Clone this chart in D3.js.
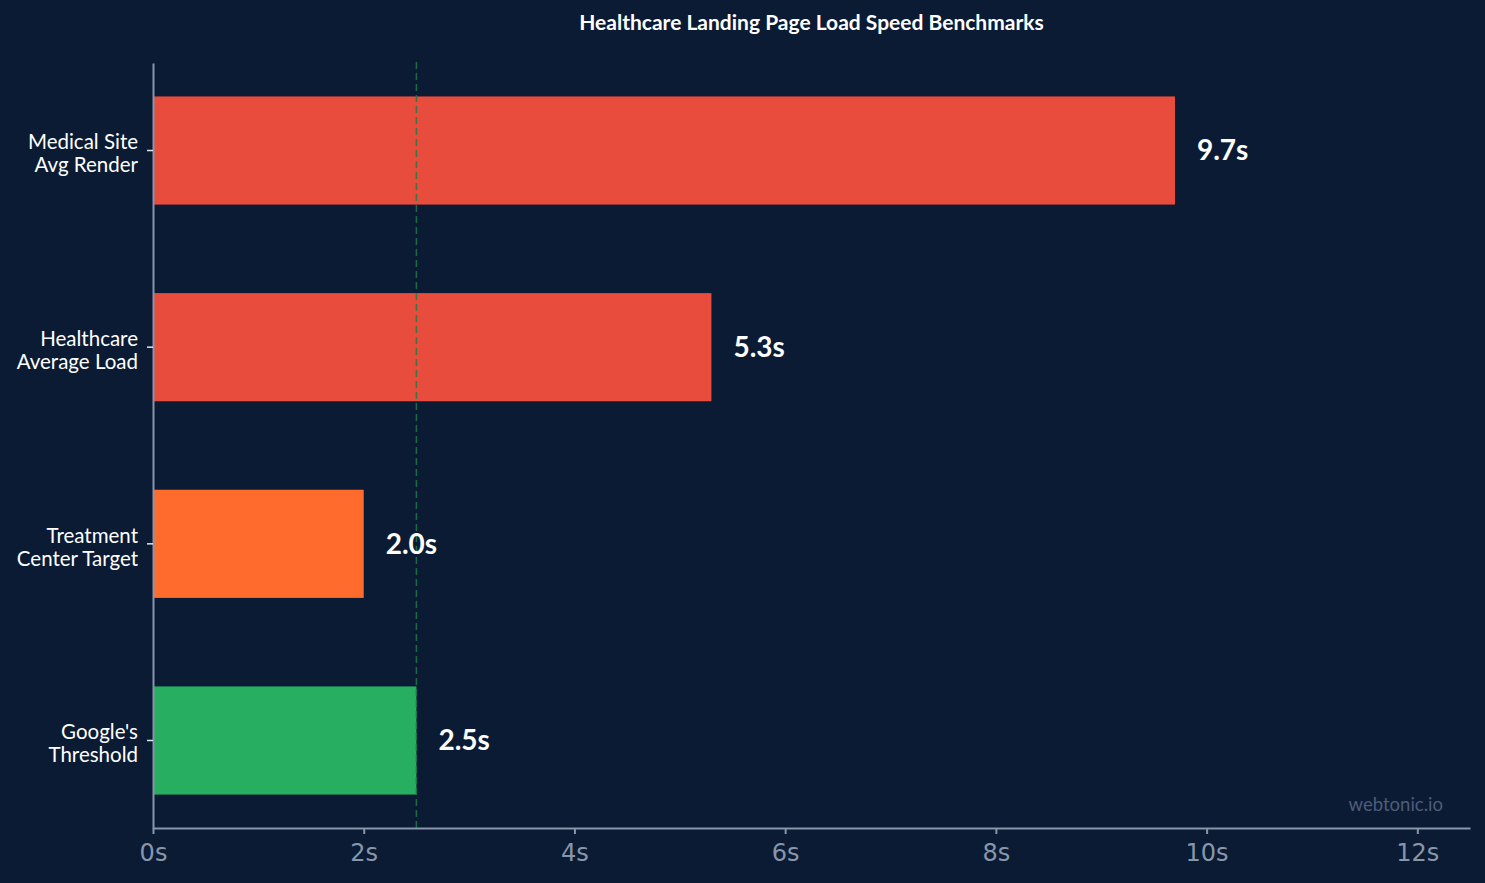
<!DOCTYPE html>
<html>
<head>
<meta charset="utf-8">
<script src="https://cdn.jsdelivr.net/npm/d3@7"></script>
<style>
  html, body { margin: 0; padding: 0; background: #0b1b34; }
  svg { display: block; }
</style>
</head>
<body>
<script>
// chart data
const categories = ["Medical Site\nAvg Render", "Healthcare\nAverage Load", "Treatment\nCenter Target", "Google's\nThreshold"];
const loadTimes = [9.7, 5.3, 2.0, 2.5];
const barColors = ["#e74c3c", "#e74c3c", "#ff6b2c", "#27ae60"];
const xTicks = [0, 2, 4, 6, 8, 10, 12];
const threshold = 2.5;

var width = 1485,
    height = 883,
    margin = {top: 63, right: 15, bottom: 55, left: 153};

var svg = d3.select('body').append('svg')
    .attr('width', width)
    .attr('height', height);

svg.append('rect')
    .attr('width', width)
    .attr('height', height)
    .attr('fill', '#0b1b34');

var x = d3.scaleLinear()
    .domain([0, 12.5])
    .range([margin.left, width - margin.right]);

var y = d3.scaleBand()
    .domain(categories)
    .range([margin.top, height - margin.bottom])
    .paddingInner(0.45)
    .paddingOuter(0.17);

// title
svg.append('text')
    .attr('x', (margin.left + width - margin.right) / 2)
    .attr('y', 30)
    .attr('text-anchor', 'middle')
    .attr('fill', '#ffffff')
    .style('font-family', 'Lato, sans-serif')
    .style('font-weight', 'bold')
    .style('font-size', '21px')
    .text('Healthcare Landing Page Load Speed Benchmarks');

// bars
svg.selectAll('.bar')
    .data(categories)
    .enter()
    .append('rect')
    .attr('class', 'bar')
    .attr('x', x(0))
    .attr('y', d => y(d))
    .attr('width', (d, i) => x(loadTimes[i]) - x(0))
    .attr('height', y.bandwidth())
    .attr('fill', (d, i) => barColors[i]);

// threshold line
svg.append('line')
    .attr('x1', x(threshold))
    .attr('x2', x(threshold))
    .attr('y1', 62)
    .attr('y2', height - margin.bottom)
    .attr('stroke', '#1f7a4a')
    .attr('stroke-width', 1.5)
    .attr('stroke-dasharray', '7,4')
    .attr('opacity', 0.85);

// value labels
svg.selectAll('.val')
    .data(categories)
    .enter()
    .append('text')
    .attr('class', 'val')
    .attr('x', (d, i) => x(loadTimes[i]) + 22)
    .attr('y', d => y(d) + y.bandwidth() / 2)
    .attr('dy', '0.35em')
    .attr('fill', '#ffffff')
    .style('font-family', 'Lato, sans-serif')
    .style('font-weight', 'bold')
    .style('font-size', '28px')
    .text((d, i) => loadTimes[i].toFixed(1) + 's');

// x axis
var xAxis = svg.append('g')
    .attr('transform', `translate(0,${height - margin.bottom})`)
    .call(d3.axisBottom(x).tickValues(xTicks).tickFormat(d => d + 's').tickSize(6).tickSizeOuter(0));
xAxis.select('.domain').attr('stroke', '#8796ab').attr('stroke-width', 2);
xAxis.selectAll('.tick line').attr('stroke', '#8796ab').attr('stroke-width', 2);
xAxis.selectAll('.tick text')
    .attr('fill', '#8796ab')
    .attr('dy', '1.0em')
    .style('font-family', '"DejaVu Sans", sans-serif')
    .style('font-size', '24px');

// y axis
var yAxis = svg.append('g')
    .attr('transform', `translate(${margin.left},0)`)
    .call(d3.axisLeft(y).tickSize(6).tickSizeOuter(0));
yAxis.select('.domain').attr('stroke', '#8796ab').attr('stroke-width', 2);
yAxis.selectAll('.tick line').attr('stroke', '#dfe5ee').attr('stroke-width', 1.5);
yAxis.selectAll('.tick text').remove();
yAxis.selectAll('.tick').each(function (d) {
    var lines = d.split('\n');
    var t = d3.select(this).append('text')
        .attr('x', -15)
        .attr('text-anchor', 'end')
        .attr('fill', '#ffffff')
        .style('font-family', 'Lato, sans-serif')
        .style('font-size', '20.5px');
    lines.forEach((ln, j) => {
        t.append('tspan')
            .attr('x', -15)
            .attr('y', 3 + (j - (lines.length - 1) / 2) * 23)
            .attr('dy', '0.35em')
            .text(ln);
    });
});

// watermark
svg.append('text')
    .attr('x', 1443)
    .attr('y', 811)
    .attr('text-anchor', 'end')
    .attr('fill', '#4d5d78')
    .style('font-family', 'Lato, sans-serif')
    .style('font-size', '18.5px')
    .text('webtonic.io');
</script>
</body>
</html>
